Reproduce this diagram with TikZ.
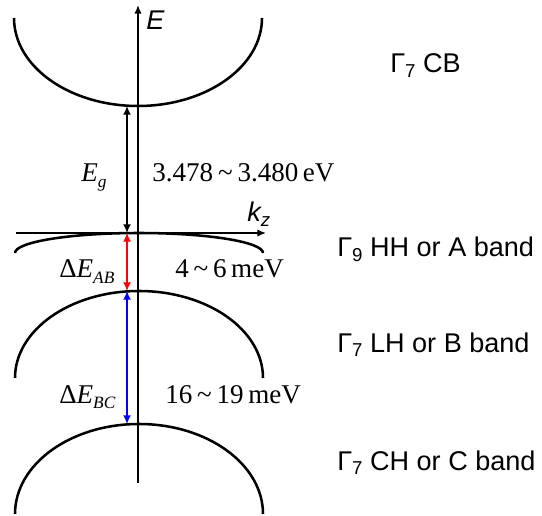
\documentclass[tikz,border=0pt]{standalone}
\usepackage{fontspec}
\setmainfont{Liberation Sans}
\newfontfamily\tnr{Liberation Serif}
\usetikzlibrary{arrows.meta}
\newcommand{\gsub}[1]{\raisebox{-3.5pt}{\fontsize{14}{14}\selectfont #1}}
\newcommand{\tsub}[1]{\raisebox{-4pt}{\fontsize{13}{13}\selectfont\itshape #1}}
\newcommand{\tld}{\hspace{0.18em}\textasciitilde\hspace{0.18em}}
\begin{document}
\begin{tikzpicture}[x=0.75pt,y=-0.75pt,
  bandline/.style={line width=1.9pt},
  axisline/.style={line width=1.1pt,-{Latex[length=6.5pt,width=5.5pt]}},
  gaparrow/.style={line width=2pt,{Latex[length=6.5pt,width=6pt]}-{Latex[length=6.5pt,width=6pt]}},
  lab/.style={inner sep=0pt,anchor=base west,font=\fontsize{20.3}{23}\selectfont},
  mlab/.style={inner sep=0pt,anchor=base west,font=\tnr\fontsize{20.3}{23}\selectfont}]
\useasboundingbox (0,0) rectangle (542,516);

% axes
\coordinate (ybot) at (138,483);
\coordinate (ytop) at (138,5);
\coordinate (xl) at (16,233);
\coordinate (xr) at (266,233);
\draw[axisline] (ybot) -- (ytop);
\draw[axisline] (xl) -- (xr);

% bands
\draw[bandline] (14,18) arc[start angle=180,end angle=0,x radius=124,y radius=88];
\draw[bandline] (15,253) arc[start angle=180,end angle=360,x radius=124,y radius=20];
\draw[bandline] (15,378) arc[start angle=180,end angle=360,x radius=124,y radius=87];
\draw[bandline] (15,514) arc[start angle=180,end angle=360,x radius=124,y radius=90];

% gap arrows
\coordinate (cbmin) at (127,106);
\coordinate (kax) at (127,233);
\coordinate (lhtop) at (127,291);
\coordinate (chtop) at (127,424);
\draw[gaparrow] (cbmin) -- (kax);
\draw[gaparrow,red] (kax) -- (lhtop);
\draw[gaparrow,blue] (lhtop) -- (chtop);

% axis labels
\node[lab] (elab) at (146,30) {\itshape E};
\node[lab] (klab) at (247,222) {\itshape k\gsub{z}};

% gap labels
\node[mlab] (eg) at (81,182) {\itshape E\tsub{g}};
\node[mlab] (egv) at (152,182) {3.478\tld 3.480\,eV};
\node[mlab] (eab) at (59,278) {Δ\textit{E}\tsub{AB}};
\node[mlab] (eabv) at (175,278) {4\tld 6\,meV};
\node[mlab] (ebc) at (59,403) {Δ\textit{E}\tsub{BC}};
\node[mlab] (ebcv) at (165,403) {16\tld 19\,meV};

% band names
\node[lab] (cb) at (390,73) {Γ\gsub{7} CB};
\node[lab] (hh) at (337,257) {Γ\gsub{9} HH or A band};
\node[lab] (lh) at (337,352) {Γ\gsub{7} LH or B band};
\node[lab] (ch) at (337,470) {Γ\gsub{7} CH or C band};
\end{tikzpicture}
\end{document}
